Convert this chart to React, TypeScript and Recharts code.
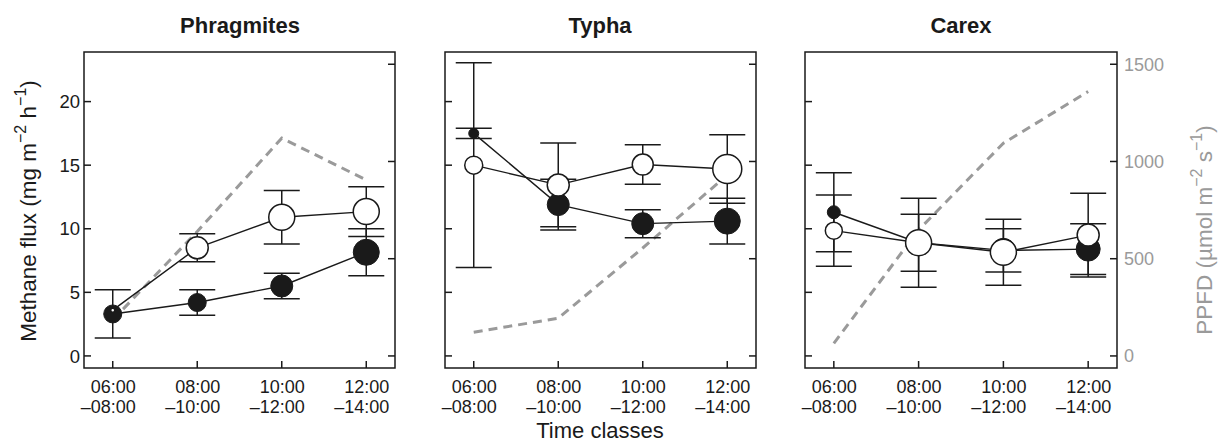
import React from "react";
import { LineChart, Line, XAxis, YAxis, ErrorBar, ReferenceArea } from "recharts";

// Shared axes
const TIME_FROM = ["06:00", "08:00", "10:00", "12:00"];
const TIME_TO = ["–08:00", "–10:00", "–12:00", "–14:00"];
const TIME_POS = [0, 1, 2, 3];
const FLUX_TICKS = [0, 5, 10, 15, 20];
const PPFD_TICKS = [0, 500, 1000, 1500];
const FLUX_DOMAIN = [-0.95, 23.9];
const PPFD_DOMAIN = [-62, 1563];
const X_DOMAIN = [-0.34, 3.34];

// Phragmites
const PHRAG_FILLED = [3.3, 4.2, 5.5, 8.15];
const PHRAG_FILLED_ERR = [1.9, 1.0, 1.0, 1.85];
const PHRAG_FILLED_R = [9, 9, 11, 13];
const PHRAG_OPEN = [3.6, 8.5, 10.9, 11.35];
const PHRAG_OPEN_ERR = [null, 1.1, 2.1, 1.95];
const PHRAG_OPEN_R = [2, 11, 13, 13];
const PHRAG_PPFD = [185, 640, 1120, 905];

// Typha
const TYPHA_FILLED = [17.5, 11.9, 10.4, 10.6];
const TYPHA_FILLED_ERR = [0.4, 2.0, 1.1, 1.8];
const TYPHA_FILLED_R = [5, 11, 11, 13];
const TYPHA_OPEN = [15.0, 13.45, 15.05, 14.7];
const TYPHA_OPEN_ERR = [8.05, 3.3, 1.55, 2.7];
const TYPHA_OPEN_R = [9, 11, 10.5, 14.5];
const TYPHA_PPFD = [122, 194, 555, 930];

// Carex
const CAREX_FILLED = [11.3, 8.9, 8.3, 8.4];
const CAREX_FILLED_ERR = [3.1, 2.25, 1.7, 2.0];
const CAREX_FILLED_R = [6.5, 12, 12, 12];
const CAREX_OPEN = [9.85, 8.9, 8.15, 9.5];
const CAREX_OPEN_ERR = [2.8, 3.5, 2.6, 3.3];
const CAREX_OPEN_R = [8.5, 13, 13, 11];
const CAREX_PPFD = [65, 648, 1094, 1360];

const INK = "#1a1a1a";
const GREY = "#9a9a9a";
const FONT = "'Liberation Sans', Arial, Helvetica, sans-serif";

const rowsFor = (
  filled: number[], filledErr: (number | null)[], filledR: number[],
  open: number[], openErr: (number | null)[], openR: number[], ppfd: number[]
) =>
  TIME_POS.map((x, i) => ({
    x,
    f: filled[i], fe: filledErr[i], fr: filledR[i],
    o: open[i], oe: openErr[i], or: openR[i],
    p: ppfd[i],
  }));

const PANELS = [
  {
    title: "Phragmites", titleX: 240,
    rows: rowsFor(PHRAG_FILLED, PHRAG_FILLED_ERR, PHRAG_FILLED_R, PHRAG_OPEN, PHRAG_OPEN_ERR, PHRAG_OPEN_R, PHRAG_PPFD),
    left: 0, width: 420, margin: { top: 52, right: 20, bottom: 25, left: 24 },
    fluxW: 60, ppfdW: 5, fluxLabels: true, ppfdLabels: false,
  },
  {
    title: "Typha", titleX: 600,
    rows: rowsFor(TYPHA_FILLED, TYPHA_FILLED_ERR, TYPHA_FILLED_R, TYPHA_OPEN, TYPHA_OPEN_ERR, TYPHA_OPEN_R, TYPHA_PPFD),
    left: 420, width: 380, margin: { top: 52, right: 39, bottom: 25, left: 20 },
    fluxW: 5, ppfdW: 5, fluxLabels: false, ppfdLabels: false,
  },
  {
    title: "Carex", titleX: 961,
    rows: rowsFor(CAREX_FILLED, CAREX_FILLED_ERR, CAREX_FILLED_R, CAREX_OPEN, CAREX_OPEN_ERR, CAREX_OPEN_R, CAREX_PPFD),
    left: 800, width: 425, margin: { top: 52, right: 48, bottom: 25, left: 2 },
    fluxW: 3, ppfdW: 60, fluxLabels: false, ppfdLabels: true,
  },
];

// Ticks point inward (R tcl > 0 look); labels sit outside the box.
const timeTick = (p: any) => {
  const i = p.payload.value;
  return (
    <g key={`t-${i}`}>
      <line x1={p.x} x2={p.x} y1={p.y} y2={p.y - 7} stroke={INK} strokeWidth={1.5} />
      <text x={p.x + 23} y={p.y + 25} textAnchor="end" fontSize={18} fontFamily={FONT} fill={INK}>
        {TIME_FROM[i]}
      </text>
      <text x={p.x + 23} y={p.y + 45} textAnchor="end" fontSize={18} fontFamily={FONT} fill={INK}>
        {TIME_TO[i]}
      </text>
    </g>
  );
};

const fluxTick = (labels: boolean) => (p: any) => (
  <g key={`f-${p.payload.value}`}>
    <line x1={p.x} x2={p.x + 7} y1={p.y} y2={p.y} stroke={INK} strokeWidth={1.5} />
    {labels && (
      <text x={p.x - 4} y={p.y} dy="0.36em" textAnchor="end" fontSize={18.5} fontFamily={FONT} fill={INK}>
        {p.payload.value}
      </text>
    )}
  </g>
);

const ppfdTick = (labels: boolean) => (p: any) => (
  <g key={`p-${p.payload.value}`}>
    <line x1={p.x} x2={p.x - 7} y1={p.y} y2={p.y} stroke={INK} strokeWidth={1.5} />
    {labels && (
      <text x={p.x + 7} y={p.y} dy="0.36em" textAnchor="start" fontSize={18} fontFamily={FONT} fill={GREY}>
        {p.payload.value}
      </text>
    )}
  </g>
);

const FilledDot = (props: any) => {
  const { cx, cy, payload, index } = props;
  if (cx == null || cy == null) return <g key={`fd-${index}`} />;
  return <circle key={`fd-${index}`} cx={cx} cy={cy} r={payload.fr} fill={INK} stroke={INK} strokeWidth={1} />;
};

const OpenDot = (props: any) => {
  const { cx, cy, payload, index } = props;
  if (cx == null || cy == null) return <g key={`od-${index}`} />;
  return <circle key={`od-${index}`} cx={cx} cy={cy} r={payload.or} fill="#ffffff" stroke={INK} strokeWidth={1.5} />;
};

function Panel({ cfg }: { cfg: (typeof PANELS)[number] }) {
  return (
    <div style={{ position: "absolute", left: cfg.left, top: 0 }}>
      <LineChart width={cfg.width} height={443} data={cfg.rows} margin={cfg.margin}>
        <XAxis
          type="number"
          dataKey="x"
          domain={X_DOMAIN}
          ticks={TIME_POS}
          interval={0}
          axisLine={false}
          tickLine={false}
          tickSize={0}
          tickMargin={0}
          height={50}
          tick={timeTick}
        />
        <YAxis
          yAxisId="flux"
          orientation="left"
          domain={FLUX_DOMAIN}
          ticks={FLUX_TICKS}
          interval={0}
          axisLine={false}
          tickLine={false}
          tickSize={0}
          tickMargin={0}
          width={cfg.fluxW}
          tick={fluxTick(cfg.fluxLabels)}
        />
        <YAxis
          yAxisId="ppfd"
          orientation="right"
          domain={PPFD_DOMAIN}
          ticks={PPFD_TICKS}
          interval={0}
          axisLine={false}
          tickLine={false}
          tickSize={0}
          tickMargin={0}
          width={cfg.ppfdW}
          tick={ppfdTick(cfg.ppfdLabels)}
        />
        <ReferenceArea
          yAxisId="flux"
          x1={X_DOMAIN[0]}
          x2={X_DOMAIN[1]}
          y1={FLUX_DOMAIN[0]}
          y2={FLUX_DOMAIN[1]}
          fill="none"
          stroke={INK}
          strokeWidth={1.5}
          ifOverflow="visible"
        />
        <Line
          yAxisId="ppfd"
          type="linear"
          dataKey="p"
          stroke={GREY}
          strokeWidth={3}
          strokeDasharray="9 6"
          dot={false}
          activeDot={false}
          isAnimationActive={false}
        />
        <Line yAxisId="flux" type="linear" dataKey="f" stroke={INK} strokeWidth={1.4}
          dot={false} activeDot={false} isAnimationActive={false} />
        <Line yAxisId="flux" type="linear" dataKey="o" stroke={INK} strokeWidth={1.4}
          dot={false} activeDot={false} isAnimationActive={false} />
        <Line yAxisId="flux" type="linear" dataKey="f" stroke="none" dot={FilledDot}
          activeDot={false} isAnimationActive={false}>
          <ErrorBar dataKey="fe" direction="y" width={18} stroke={INK} strokeWidth={1.5} isAnimationActive={false} />
        </Line>
        <Line yAxisId="flux" type="linear" dataKey="o" stroke="none" dot={OpenDot}
          activeDot={false} isAnimationActive={false}>
          <ErrorBar dataKey="oe" direction="y" width={18} stroke={INK} strokeWidth={1.5} isAnimationActive={false} />
        </Line>
      </LineChart>
    </div>
  );
}

export default function App() {
  return (
    <div style={{ position: "absolute", left: 0, top: 0, width: 1225, height: 443, background: "#fff", fontFamily: FONT }}>
      {PANELS.map((cfg) => (
        <Panel key={cfg.title} cfg={cfg} />
      ))}
      <svg width={1225} height={443} style={{ position: "absolute", left: 0, top: 0, pointerEvents: "none" }}>
        {PANELS.map((cfg) => (
          <text key={cfg.title} x={cfg.titleX} y={33} textAnchor="middle" fontSize={22} fontWeight="bold" fontFamily={FONT} fill={INK}>
            {cfg.title}
          </text>
        ))}
        <text x={600} y={438} textAnchor="middle" fontSize={22} fontFamily={FONT} fill={INK}>
          Time classes
        </text>
        <text transform="translate(36,211) rotate(-90)" textAnchor="middle" fontSize={22.5} fontFamily={FONT} fill={INK}>
          Methane flux (mg m<tspan fontSize={16} dy={-10}>−2</tspan>
          <tspan dy={10}> h</tspan>
          <tspan fontSize={16} dy={-10}>−1</tspan>
          <tspan dy={10}>)</tspan>
        </text>
        <text transform="translate(1212,230) rotate(-90)" textAnchor="middle" fontSize={22.5} fontFamily={FONT} fill={GREY}>
          PPFD (µmol m<tspan fontSize={16} dy={-10}>−2</tspan>
          <tspan dy={10}> s</tspan>
          <tspan fontSize={16} dy={-10}>−1</tspan>
          <tspan dy={10}>)</tspan>
        </text>
      </svg>
    </div>
  );
}
